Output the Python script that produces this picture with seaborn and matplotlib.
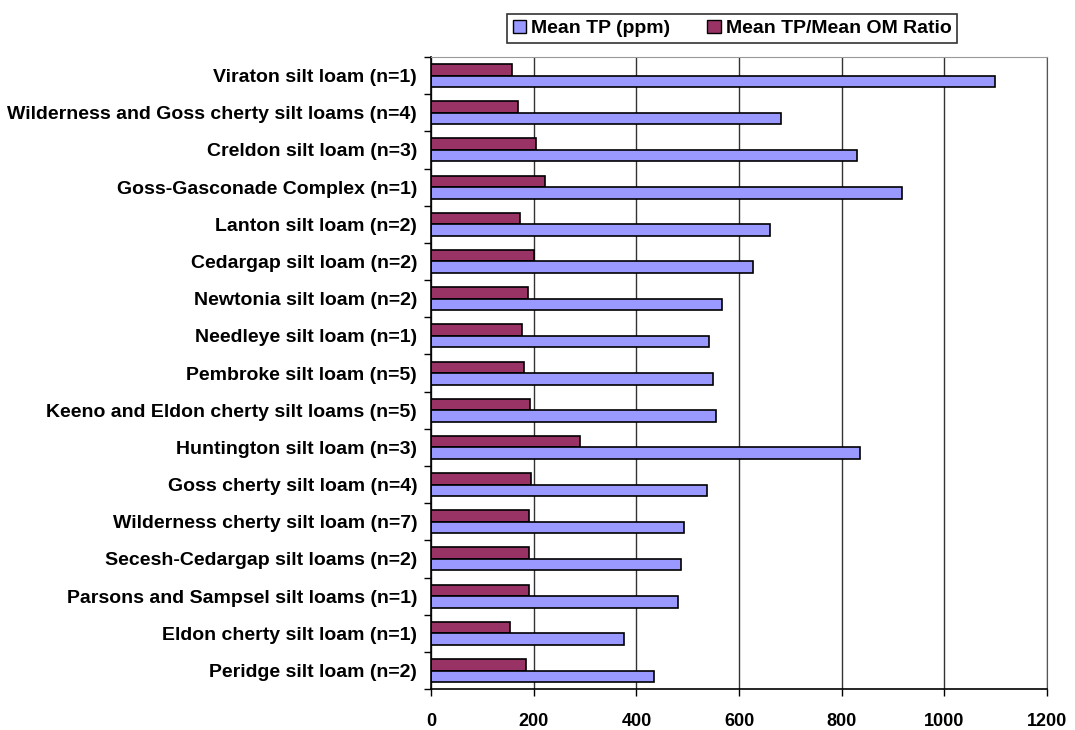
import matplotlib
matplotlib.use("Agg")
import numpy as np
import pandas as pd
import matplotlib.pyplot as plt
import seaborn as sns
from matplotlib.patches import Patch

# soil units, top to bottom as in the chart
soils = [
    "Viraton silt loam (n=1)",
    "Wilderness and Goss cherty silt loams (n=4)",
    "Creldon silt loam (n=3)",
    "Goss-Gasconade Complex (n=1)",
    "Lanton silt loam (n=2)",
    "Cedargap silt loam (n=2)",
    "Newtonia silt loam (n=2)",
    "Needleye silt loam (n=1)",
    "Pembroke silt loam (n=5)",
    "Keeno and Eldon cherty silt loams (n=5)",
    "Huntington silt loam (n=3)",
    "Goss cherty silt loam (n=4)",
    "Wilderness cherty silt loam (n=7)",
    "Secesh-Cedargap silt loams (n=2)",
    "Parsons and Sampsel silt loams (n=1)",
    "Eldon cherty silt loam (n=1)",
    "Peridge silt loam (n=2)",
]
mean_tp = [1098, 681, 830, 918, 660, 628, 567, 542, 549, 555, 835, 538, 493, 487, 482, 376, 434]
tp_om_ratio = [157, 169, 205, 222, 174, 200, 188, 178, 182, 192, 290, 194, 190, 191, 190, 153, 184]

TP_LABEL = "Mean TP (ppm)"
RATIO_LABEL = "Mean TP/Mean OM Ratio"
colors = {TP_LABEL: "#9999FF", RATIO_LABEL: "#993366"}

df = pd.concat([
    pd.DataFrame({"soil": soils, "series": RATIO_LABEL, "value": tp_om_ratio}),
    pd.DataFrame({"soil": soils, "series": TP_LABEL, "value": mean_tp}),
])

sns.set_style("white")
plt.rcParams["font.family"] = ["Liberation Sans", "DejaVu Sans"]
plt.rcParams["text.color"] = "black"
plt.rcParams["xtick.color"] = "black"
plt.rcParams["ytick.color"] = "black"

fig = plt.figure(figsize=(10.75, 7.3), dpi=100)
ax = fig.add_axes([0.401, 0.056, 0.573, 0.866])

sns.barplot(data=df, y="soil", x="value", hue="series", order=soils,
            hue_order=[RATIO_LABEL, TP_LABEL], palette=colors, orient="h",
            saturation=1, width=0.62, edgecolor="black", linewidth=1.2,
            legend=False, ax=ax)

ax.set_xlim(0, 1200)
ax.set_ylim(len(soils) - 0.5, -0.5)
ax.set_xticks(np.arange(0, 1201, 200))
ax.set_xlabel("")
ax.set_ylabel("")

ax.xaxis.grid(True, color="#333333", linewidth=1.0)
ax.set_axisbelow(True)

for lbl in ax.get_xticklabels():
    lbl.set_fontweight("bold")
for lbl in ax.get_yticklabels():
    lbl.set_fontweight("bold")
ax.tick_params(axis="x", labelsize=13, length=5, width=1, direction="out", pad=12, bottom=True)
ax.tick_params(axis="y", which="major", labelsize=14, length=0, pad=10)
ax.set_yticks(np.arange(-0.5, len(soils), 1.0), minor=True)
ax.tick_params(axis="y", which="minor", length=5, width=1, direction="out", left=True)

for side in ["left", "bottom"]:
    ax.spines[side].set_color("black")
    ax.spines[side].set_linewidth(1.2)
ax.spines["top"].set_color("#999999")
ax.spines["right"].set_color("#555555")

handles = [Patch(facecolor=colors[TP_LABEL], edgecolor="black", label=TP_LABEL),
           Patch(facecolor=colors[RATIO_LABEL], edgecolor="black", label=RATIO_LABEL)]
leg = fig.legend(handles=handles, loc="center", bbox_to_anchor=(0.681, 0.961), ncol=2,
                 frameon=True, fancybox=False, prop={"weight": "bold", "size": 14},
                 handlelength=0.7, handleheight=0.7, handletextpad=0.25,
                 columnspacing=1.9, borderpad=0.3, borderaxespad=0)
leg.get_frame().set_edgecolor("black")
leg.get_frame().set_linewidth(1.2)

fig.savefig("out.png", dpi=100)
